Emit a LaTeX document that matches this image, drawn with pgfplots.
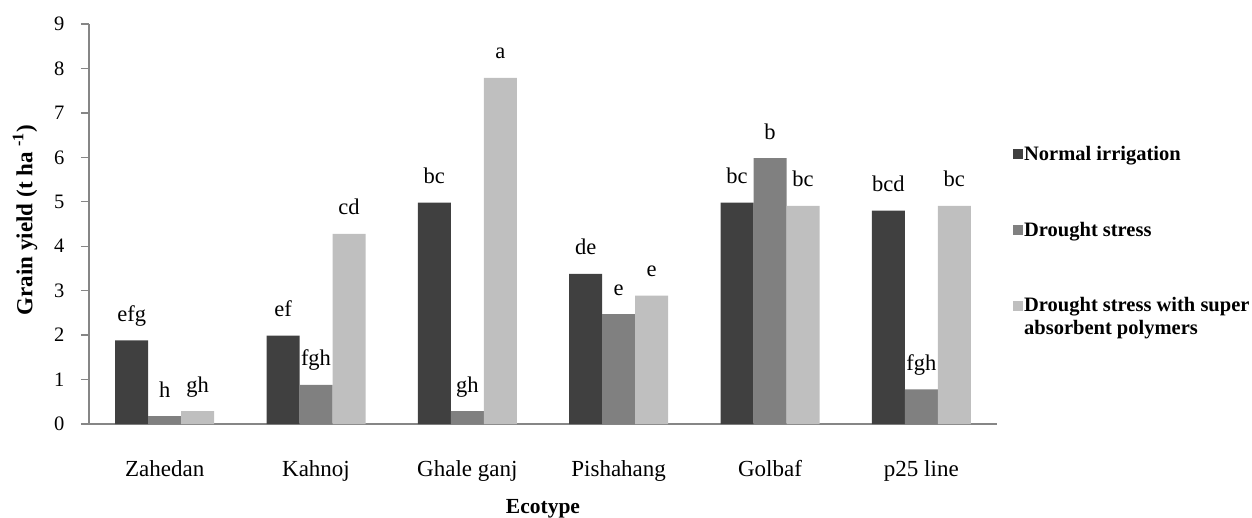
\documentclass[border=0pt]{standalone}
\usepackage{fontspec}
\setmainfont{Liberation Serif}
\usepackage{pgfplots}
\pgfplotsset{compat=1.18}
\definecolor{cA}{RGB}{64,64,64}
\definecolor{cB}{RGB}{128,128,128}
\definecolor{cC}{RGB}{191,191,191}
\definecolor{axgray}{RGB}{134,134,134}
\begin{document}
\begin{tikzpicture}
\useasboundingbox (0,0) rectangle (1252pt,517pt);
\begin{axis}[
  at={(89pt,93pt)}, anchor=south west,
  scale only axis, width=908pt, height=400pt,
  xmin=-0.5, xmax=5.5, ymin=0, ymax=9,
  ybar=0pt, bar width=33pt,
  axis x line=bottom, axis y line=left,
  axis line style={-, draw=axgray, line width=1.3pt},
  xtick={0,...,5},
  xticklabels={Zahedan,Kahnoj,Ghale ganj,Pishahang,Golbaf,p25 line},
  x tick style={draw=none},
  ytick={0,...,9},
  y tick style={draw=axgray, line width=1.3pt},
  tick align=outside, major tick length=8pt,
  /pgf/number format/assume math mode=true,
  yticklabel style={font=\fontsize{20.5}{24}\selectfont, anchor=east, xshift=-13pt},
  xticklabel style={font=\fontsize{23}{26}\selectfont, anchor=base, yshift=-44pt},
  xlabel={\textbf{Ecotype}},
  ylabel={\textbf{Grain yield (t ha \textsuperscript{-1})}},
  every axis x label/.style={at={(axis description cs:0.5,0)}, anchor=base, yshift=-89pt, font=\fontsize{21.5}{25}\selectfont},
  every axis y label/.style={at={(axis description cs:-0.0705,0.51)}, rotate=90, anchor=center, font=\fontsize{23}{26}\selectfont},
  point meta=explicit symbolic,
  nodes near coords,
  nodes near coords style={anchor=base, yshift=19pt, font=\fontsize{22.5}{26}\selectfont, text=black},
  legend style={at={(axis description cs:1.0176,0.6975)}, anchor=north west, draw=none, fill=none,
    font=\bfseries\fontsize{20.5}{23}\selectfont, row sep=58pt, cells={align=left}, inner sep=0pt,
    nodes={inner sep=1pt}},
  legend cell align=left,
  clip=false,
]
\addplot[fill=cA, draw=none, legend image code/.code={\fill[cA] (0pt,-5pt) rectangle (10pt,5pt);}]
  coordinates {(0,1.88) [efg] (1,1.99) [ef] (2,4.98) [bc] (3,3.38) [de] (4,4.98) [bc] (5,4.80) [bcd]};
\addlegendentry{Normal irrigation}
\addplot[fill=cB, draw=none, legend image code/.code={\fill[cB] (0pt,-5pt) rectangle (10pt,5pt);}]
  coordinates {(0,0.18) [h] (1,0.88) [fgh] (2,0.29) [gh] (3,2.47) [e] (4,5.98) [b] (5,0.78) [fgh]};
\addlegendentry{Drought stress}
\addplot[fill=cC, draw=none, legend image code/.code={\fill[cC] (0pt,6.5pt) rectangle (10pt,16.5pt);}]
  coordinates {(0,0.29) [gh] (1,4.28) [cd] (2,7.79) [a] (3,2.89) [e] (4,4.91) [bc] (5,4.91) [bc]};
\addlegendentry{Drought stress  with super\\absorbent polymers}
\end{axis}
\end{tikzpicture}
\end{document}
